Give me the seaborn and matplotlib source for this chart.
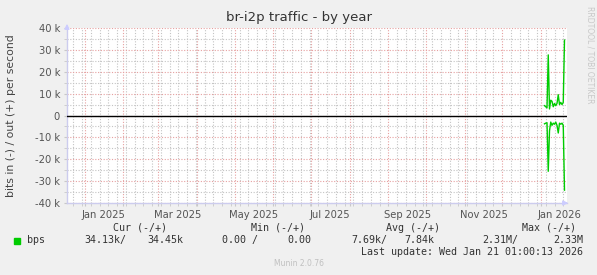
import matplotlib
matplotlib.use("Agg")
import matplotlib.pyplot as plt
import matplotlib.dates as mdates
import matplotlib.transforms as mtrans
from matplotlib.ticker import MultipleLocator, FuncFormatter
import seaborn as sns
import pandas as pd
import numpy as np

# ---- data ----
days = ["2026-01-04", "2026-01-05", "2026-01-06", "2026-01-07", "2026-01-08",
        "2026-01-09", "2026-01-10", "2026-01-11", "2026-01-12", "2026-01-13",
        "2026-01-14", "2026-01-15", "2026-01-16", "2026-01-17", "2026-01-18",
        "2026-01-19", "2026-01-20"]
out_k = [4.5, 4.0, 3.5, 27.7, 3.0, 7.0, 6.5, 4.0, 5.5, 4.5, 5.5, 9.5, 5.0, 6.0, 5.0, 6.0, 34.45]
in_k = [3.8, 3.5, 3.3, 25.5, 7.0, 3.0, 4.5, 3.5, 4.0, 3.0, 4.5, 8.0, 3.5, 4.0, 3.5, 4.5, 34.13]

title = "br-i2p traffic - by year"
ylabel = "bits in (-) / out (+) per second"
yticks = [-40, -30, -20, -10, 0, 10, 20, 30, 40]
x_start, x_end = "2024-12-18", "2026-01-22"

legend_name = "bps"
cur = ["34.13k/", "34.45k"]
mins = ["0.00 /", "0.00"]
avgs = ["7.69k/", "7.84k"]
maxs = ["2.31M/", "2.33M"]
last_update = "Last update: Wed Jan 21 01:00:13 2026"
munin = "Munin 2.0.76"
side = "RRDTOOL / TOBI OETIKER"

df = pd.DataFrame({"date": pd.to_datetime(days),
                   "out": np.array(out_k) * 1000,
                   "inn": -np.array(in_k) * 1000})

# ---- figure ----
W, H = 597, 275
fig = plt.figure(figsize=(W / 100, H / 100), dpi=100, facecolor="#f0f0f0")
L, R, T, B = 67, 567, 28, 203
ax = fig.add_axes([L / W, 1 - B / H, (R - L) / W, (B - T) / H])
ax.set_facecolor("white")

green = "#00cc00"
sns.lineplot(data=df, x="date", y="out", ax=ax, color=green, lw=1.0, zorder=5)
sns.lineplot(data=df, x="date", y="inn", ax=ax, color=green, lw=1.0, zorder=5)

ax.set_xlim(pd.Timestamp(x_start), pd.Timestamp(x_end))
ax.set_ylim(-40000, 40000)

# grids
red = "#e6a0a0"
gray = "#c4c4c4"
ax.xaxis.set_major_locator(mdates.MonthLocator(bymonthday=1))
ax.xaxis.set_minor_locator(mdates.WeekdayLocator(byweekday=mdates.MO))
ax.yaxis.set_major_locator(MultipleLocator(10000))
ax.yaxis.set_minor_locator(MultipleLocator(5000))
ax.grid(which="minor", color=gray, ls=(0, (1, 1.5)), lw=0.8, zorder=0)
ax.grid(which="major", color=red, ls=(0, (1, 1.5)), lw=0.8, zorder=1)
ax.axhline(0, color="black", lw=1.0, zorder=4)

def xfmt(v, pos):
    d = mdates.num2date(v)
    if d.month % 2 == 1:
        return d.strftime("%b %Y")
    return ""
ax.xaxis.set_major_formatter(FuncFormatter(xfmt))

def yfmt(v, pos):
    k = int(round(v / 1000))
    return "0" if k == 0 else f"{k} k"
ax.yaxis.set_major_formatter(FuncFormatter(yfmt))

ax.tick_params(which="both", length=2, color="#c8c8c8", labelsize=7.2,
               labelcolor="#555555", pad=3)
offset = mtrans.ScaledTranslation(0.19, 0, fig.dpi_scale_trans)
for lab in ax.get_xticklabels():
    lab.set_transform(lab.get_transform() + offset)

for s in ["top", "right"]:
    ax.spines[s].set_visible(False)
for s in ["left", "bottom"]:
    ax.spines[s].set_color("#ccccee")
    ax.spines[s].set_linewidth(1.0)

# axis arrows
ax.annotate("", xy=(0, 1.04), xytext=(0, 0.98), xycoords="axes fraction",
            arrowprops=dict(arrowstyle="-|>", color="#ccccff", lw=1, mutation_scale=7),
            annotation_clip=False)
ax.annotate("", xy=(1.008, 0), xytext=(0.99, 0), xycoords="axes fraction",
            arrowprops=dict(arrowstyle="-|>", color="#ccccff", lw=1, mutation_scale=7),
            annotation_clip=False)

ax.set_xlabel("")
ax.set_ylabel("")

# texts
def ftext(x, y, s, **kw):
    fig.text(x / W, 1 - y / H, s, **kw)

ftext(299, 17, title, ha="center", va="center", fontsize=9.5, color="#333333")
ftext(11, 116, ylabel, ha="center", va="center", rotation=90, fontsize=7.8, color="#444444")
ftext(590, 6, side, ha="center", va="top", rotation=270, fontsize=5.5, color="#c8c8c8")

mono = dict(family="DejaVu Sans Mono", fontsize=7.2, color="#333333", va="center")
ftext(167, 228, "Cur (-/+)", ha="right", **mono)
ftext(305, 228, "Min (-/+)", ha="right", **mono)
ftext(440, 228, "Avg (-/+)", ha="right", **mono)
ftext(576, 228, "Max (-/+)", ha="right", **mono)

fig.patches.append(plt.Rectangle((14 / W, 1 - 244 / H), 6 / W, 6 / H,
                                 transform=fig.transFigure, color=green, figure=fig))
ftext(27, 240, legend_name, ha="left", **mono)
ftext(126, 240, cur[0], ha="right", **mono)
ftext(183, 240, cur[1], ha="right", **mono)
ftext(258, 240, mins[0], ha="right", **mono)
ftext(311, 240, mins[1], ha="right", **mono)
ftext(387, 240, avgs[0], ha="right", **mono)
ftext(434, 240, avgs[1], ha="right", **mono)
ftext(518, 240, maxs[0], ha="right", **mono)
ftext(583, 240, maxs[1], ha="right", **mono)
ftext(583, 252, last_update, ha="right", **mono)
ftext(299, 264, munin, ha="center", va="center", fontsize=5.5, color="#c0c0c0")

fig.savefig("out.png", dpi=100, facecolor=fig.get_facecolor())
